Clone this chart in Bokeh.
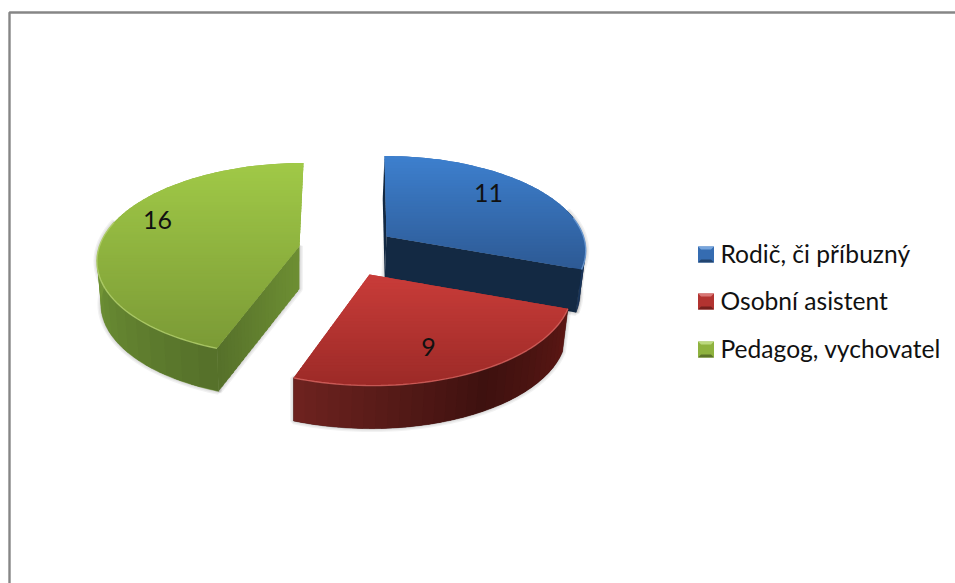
import numpy as np
from bokeh.plotting import figure
from bokeh.models import Range1d
from bokeh.embed import file_html
from bokeh.resources import INLINE
from bokeh.core.properties import value

# ---- data -------------------------------------------------------------
categories = ["Rodič, či příbuzný", "Osobní asistent", "Pedagog, vychovatel"]
values = [11, 9, 16]

# ---- style / layout ---------------------------------------------------
FONT = "Lato"
top_hi = ["#3D7FCE", "#C93C39", "#A0C947"]
top_lo = ["#2D5A94", "#9C2A27", "#7B9A36"]
rim = ["#7FAEE6", "#DC6A66", "#BAD674"]
walls = [
    [(0.0, "#0F2238"), (0.8, "#14294A"), (1.0, "#1E3C62")],
    [(0.0, "#5C1714"), (0.45, "#3E110F"), (1.0, "#6E2320")],
    [(0.0, "#55702A"), (0.5, "#668731"), (1.0, "#7DA03A")],
]
cut_faces = [("#132943", "#132943"), None, ("#55702A", "#6E8F33")]
apexes = [(386, 236), (369, 274), (299, 245.5)]
skews = [-2.0, -3.0, 4.0]
y_scales = [0.97, 1.01, 1.0]
radii = [197.0, 200.0, 200.0]
label_pos = [(488, 193), (428, 347), (157, 220)]
legend_y = [254, 301, 349]
rims = [(78, 110), (110, 200), (200, 285)]
B, K = 94.6, 0.14
DEPTH, VIEW_CX, SHRINK = 43.0, 295.0, 0.98


def hex2rgb(c):
    return np.array([int(c[i:i + 2], 16) for i in (1, 3, 5)], float)


def mix(a, b, t):
    m = hex2rgb(a) * (1 - t) + hex2rgb(b) * t
    return "#%02x%02x%02x" % tuple(int(round(v)) for v in m)


def ramp(stops, t):
    for (t0, c0), (t1, c1) in zip(stops, stops[1:]):
        if t <= t1:
            return mix(c0, c1, (t - t0) / (t1 - t0))
    return stops[-1][1]


def rim_pt(theta, i):
    a = np.radians(theta)
    u, v = np.sin(a), np.cos(a)
    s = 1 / (1 + K * v)
    return (apexes[i][0] + radii[i] * u * s + skews[i] * v,
            apexes[i][1] - B * y_scales[i] * v * s)


def lower(pt):
    return VIEW_CX + (pt[0] - VIEW_CX) * SHRINK, pt[1] + DEPTH


def clip_half(poly, y0, keep_below):
    out = []
    for i in range(len(poly)):
        a, b = poly[i], poly[(i + 1) % len(poly)]
        ina = (a[1] >= y0) if keep_below else (a[1] <= y0)
        inb = (b[1] >= y0) if keep_below else (b[1] <= y0)
        if ina:
            out.append(a)
        if ina != inb:
            t = (y0 - a[1]) / (b[1] - a[1])
            out.append((a[0] + (b[0] - a[0]) * t, y0))
    return out


p = figure(width=955, height=583, output_backend="svg", toolbar_location=None,
           x_range=Range1d(0, 955), y_range=Range1d(583, 0),
           min_border=0, outline_line_color=None, background_fill_color="white")
p.axis.visible = False
p.grid.visible = False

# frame
p.line([9, 9, 955], [583, 12, 12], line_color="#868686", line_width=2.4)

# slice sweeps derived from the values
total = sum(values)
edges = np.cumsum([0] + values) / total * 360.0


def draw_slice(i):
    a0, a1 = edges[i], edges[i + 1]
    apex = apexes[i]
    thetas = np.linspace(a0, a1, 61)
    arc = [rim_pt(t, i) for t in thetas]
    top = [apex] + arc
    near = [t for t in thetas if np.cos(np.radians(t)) < 0.3]
    nt = [rim_pt(t, i) for t in near]
    xs, ys, cs = [], [], []

    # soft shadow of the side walls
    sil = nt + [lower(q) for q in reversed(nt)]
    if cut_faces[i] is not None:
        corner = rim_pt(a1 if i == 0 else a0, i)
        sil2 = [apex, corner, lower(corner), lower(apex)]
        for w in (7, 4.5, 2):
            p.patch([q[0] for q in sil2], [q[1] for q in sil2], fill_alpha=0,
                    line_color="black", line_alpha=0.05, line_width=w)
    for w in (7, 4.5, 2):
        p.patch([q[0] for q in sil], [q[1] for q in sil], fill_alpha=0,
                line_color="black", line_alpha=0.05, line_width=w)

    # outer wall: base shape first so seams cannot show the background
    wall_mid = ramp(walls[i], 0.5)
    p.patch([q[0] for q in sil], [q[1] for q in sil], fill_color=wall_mid, line_color=wall_mid, line_width=0.5)
    step = 2
    for j in range(0, len(nt) - step, step):
        q0, q1 = nt[j], nt[min(j + step + 1, len(nt) - 1)]
        poly = [q0, q1, lower(q1), lower(q0)]
        xs.append([q[0] for q in poly])
        ys.append([q[1] for q in poly])
        cs.append(ramp(walls[i], (j + step / 2) / (len(nt) - 1)))

    # cut faces
    if i == 0:
        north = rim_pt(a0, i)
        xs.append([north[0], apex[0], lower(apex)[0], lower(north)[0]])
        ys.append([north[1], apex[1], lower(apex)[1], lower(north)[1]])
        cs.append("#132943")
        corner = rim_pt(a1, i)
        xs.append([apex[0], corner[0], lower(corner)[0], lower(apex)[0]])
        ys.append([apex[1], corner[1], lower(corner)[1], lower(apex)[1]])
        cs.append("#132943")
    if i == 2:
        corner = rim_pt(a0, i)
        n = 24
        for j in range(n):
            t0, t1 = j / n, min(1, (j + 1.5) / n)
            q0 = (corner[0] + (apex[0] - corner[0]) * t0, corner[1] + (apex[1] - corner[1]) * t0)
            q1 = (corner[0] + (apex[0] - corner[0]) * t1, corner[1] + (apex[1] - corner[1]) * t1)
            poly = [q0, q1, lower(q1), lower(q0)]
            xs.append([q[0] for q in poly])
            ys.append([q[1] for q in poly])
            cs.append(mix(*cut_faces[i], (j + 0.5) / n))

    # top face: thin horizontal bands give the vertical gradient
    ymin, ymax = min(q[1] for q in top), max(q[1] for q in top)
    n = int((ymax - ymin) / 3) + 1
    bounds = np.linspace(ymin, ymax, n + 1)
    p.patch([q[0] for q in top], [q[1] for q in top], fill_color=mix(top_hi[i], top_lo[i], 0.5),
            line_color=None)
    for j in range(n):
        # each band overlaps the next one by a pixel, drawn top to bottom
        band = clip_half(clip_half(top, bounds[j], True), bounds[j + 1] + 1.2, False)
        if len(band) >= 3:
            xs.append([q[0] for q in band])
            ys.append([q[1] for q in band])
            cs.append(mix(top_hi[i], top_lo[i], (j + 0.5) / n))
    p.patches(xs, ys, fill_color=cs, line_color=None)

    # bevel highlight along the near rim
    r0, r1 = rims[i]
    hl = [rim_pt(t, i) for t in np.linspace(r0, r1, 50)]
    p.line([q[0] for q in hl], [q[1] for q in hl], line_color=rim[i],
           line_alpha=0.75, line_width=1.4)


# back to front
for idx in (2, 0, 1):
    draw_slice(idx)

# data labels
p.text([q[0] for q in label_pos], [q[1] - 1 for q in label_pos], text=[str(v) for v in values],
       text_font=value(FONT), text_font_size="25px", text_color="#111111",
       text_align="center", text_baseline="middle")

# legend
for i, name in enumerate(categories):
    y = legend_y[i]
    cx, h = 705.5, 8.0
    mid = mix(top_hi[i], top_lo[i], 0.5)
    p.quad(left=[cx - h], right=[cx + h], top=[y - h], bottom=[y + h],
           fill_color=mid, line_color=None)
    p.patch([cx - h, cx + h, cx + h - 3, cx - h + 3],
            [y - h, y - h, y - h + 3, y - h + 3],
            fill_color=mix(top_hi[i], "#ffffff", 0.3), line_color=None)
    p.patch([cx - h, cx + h, cx + h - 3, cx - h + 3],
            [y + h, y + h, y + h - 3, y + h - 3],
            fill_color=mix(top_lo[i], "#000000", 0.25), line_color=None)
    p.text([720], [y - 1.5], text=[name], text_font=value(FONT), text_font_size="24.6px",
           text_color="#111111", text_align="left", text_baseline="middle")

open("out.html", "w").write(file_html(p, INLINE))
